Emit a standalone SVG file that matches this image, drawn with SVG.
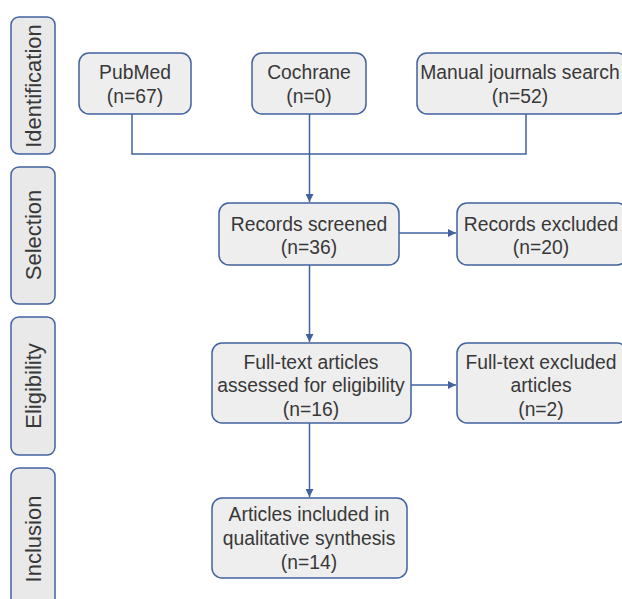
<svg xmlns="http://www.w3.org/2000/svg" width="622" height="599" viewBox="0 0 622 599">
<style>
.box{fill:#eeeeee;stroke:#41629f;stroke-width:1.5}
.side{fill:#e9e9e9;stroke:#41629f;stroke-width:1.5}
.t{font-family:"Liberation Sans",Arial,sans-serif;font-size:19.3px;fill:#383838;text-anchor:middle}
.s{font-family:"Liberation Sans",Arial,sans-serif;font-size:22px;fill:#383838;text-anchor:middle}
.c{fill:none;stroke:#41629f;stroke-width:1.5}
</style>
<defs>
<marker id="ah" viewBox="0 0 10 10" refX="10" refY="5" markerWidth="8" markerHeight="8" markerUnits="userSpaceOnUse" orient="auto">
<path d="M0,0 L10,5 L0,10 z" fill="#41629f"/>
</marker>
</defs>
<rect width="622" height="599" fill="#ffffff"/>
<g id="side-identification"><rect class="side" x="11" y="17" width="44" height="137" rx="8"/><text class="s" transform="translate(41,86) rotate(-90)">Identification</text></g>
<g id="side-selection"><rect class="side" x="11" y="167" width="44" height="137" rx="8"/><text class="s" transform="translate(41,235) rotate(-90)">Selection</text></g>
<g id="side-eligibility"><rect class="side" x="11" y="317" width="44" height="138" rx="8"/><text class="s" transform="translate(41,386) rotate(-90)">Eligibility</text></g>
<g id="side-inclusion"><rect class="side" x="11" y="468" width="44" height="160" rx="8"/><text class="s" transform="translate(41,539) rotate(-90)">Inclusion</text></g>

<g id="connectors">
<polyline class="c" points="132,114 132,154 526,154 526,114"/>
<line class="c" x1="309.5" y1="114" x2="309.5" y2="202" marker-end="url(#ah)"/>
<line class="c" x1="399" y1="233" x2="456" y2="233" marker-end="url(#ah)"/>
<line class="c" x1="309.5" y1="265" x2="309.5" y2="342" marker-end="url(#ah)"/>
<line class="c" x1="411" y1="385" x2="456" y2="385" marker-end="url(#ah)"/>
<line class="c" x1="309.5" y1="423" x2="309.5" y2="497" marker-end="url(#ah)"/>
</g>

<g id="pubmed"><rect class="box" x="79" y="53" width="112" height="61" rx="10"/><text class="t" x="135" y="79">PubMed</text><text class="t" x="135" y="103">(n=67)</text></g>
<g id="cochrane"><rect class="box" x="252" y="53" width="114" height="61" rx="10"/><text class="t" x="309" y="79">Cochrane</text><text class="t" x="309" y="103">(n=0)</text></g>
<g id="manual"><rect class="box" x="417" y="53" width="210" height="61" rx="10"/><text class="t" x="520" y="79">Manual journals search</text><text class="t" x="520" y="103">(n=52)</text></g>
<g id="screened"><rect class="box" x="219" y="203" width="180" height="62" rx="10"/><text class="t" x="309" y="231">Records screened</text><text class="t" x="309" y="254">(n=36)</text></g>
<g id="excluded"><rect class="box" x="457" y="203" width="170" height="62" rx="10"/><text class="t" x="541" y="231">Records excluded</text><text class="t" x="541" y="254">(n=20)</text></g>
<g id="fulltext"><rect class="box" x="212" y="343" width="199" height="80" rx="10"/><text class="t" x="311" y="369">Full-text articles</text><text class="t" x="311" y="392">assessed for eligibility</text><text class="t" x="311" y="416">(n=16)</text></g>
<g id="ftexcluded"><rect class="box" x="457" y="343" width="170" height="80" rx="10"/><text class="t" x="541" y="369">Full-text excluded</text><text class="t" x="541" y="392">articles</text><text class="t" x="541" y="416">(n=2)</text></g>
<g id="included"><rect class="box" x="212" y="498" width="195" height="80" rx="10"/><text class="t" x="309" y="521">Articles included in</text><text class="t" x="309" y="545">qualitative synthesis</text><text class="t" x="309" y="569">(n=14)</text></g>
</svg>
